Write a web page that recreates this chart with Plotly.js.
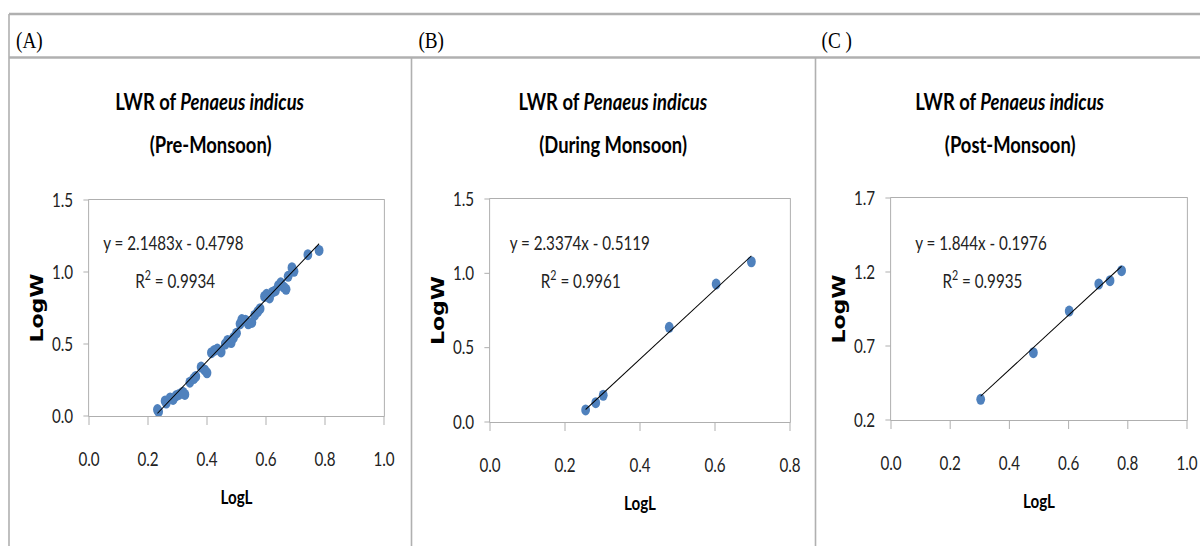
<!DOCTYPE html>
<html>
<head>
<meta charset="utf-8">
<script src="https://cdn.plot.ly/plotly-3.0.1.min.js"></script>
<style>
html,body{margin:0;padding:0;background:#fff;overflow:hidden}
#wrap{width:1200px;height:546px;overflow:hidden}
#chart{width:1500px;height:546px;transform:scaleX(0.8);transform-origin:0 0}
</style>
</head>
<body>
<div id="wrap"><div id="chart"></div></div>
<script>
// ---- Data ----
const preX = [0.232,0.236,0.258,0.262,0.275,0.285,0.295,0.305,0.318,0.325,0.342,0.355,0.362,0.380,0.392,0.400,0.415,0.425,0.435,0.448,0.462,0.470,0.482,0.490,0.500,0.512,0.518,0.530,0.540,0.552,0.562,0.572,0.580,0.595,0.602,0.612,0.622,0.632,0.642,0.650,0.660,0.668,0.675,0.688,0.695,0.742,0.780];
const preY = [0.045,0.030,0.105,0.090,0.125,0.115,0.140,0.150,0.165,0.150,0.235,0.260,0.275,0.340,0.320,0.300,0.440,0.455,0.465,0.445,0.500,0.525,0.510,0.545,0.575,0.640,0.670,0.665,0.640,0.650,0.700,0.725,0.745,0.830,0.845,0.820,0.860,0.870,0.905,0.925,0.895,0.880,0.970,1.030,1.005,1.120,1.150];
const durX = [0.255,0.282,0.302,0.478,0.603,0.697];
const durY = [0.081,0.130,0.180,0.637,0.928,1.078];
const postX = [0.303,0.481,0.602,0.702,0.740,0.779];
const postY = [0.340,0.655,0.936,1.119,1.141,1.209];

const preFit = {slope: 2.1483, intercept: -0.4798, r2: '0.9934'};
const durFit = {slope: 2.3374, intercept: -0.5119, r2: '0.9961'};
const postFit = {slope: 1.844, intercept: -0.1976, r2: '0.9935'};

const panelLabels = ['(A)', '(B)', '(C )'];
const seasons = ['(Pre-Monsoon)', '(During Monsoon)', '(Post-Monsoon)'];
const xTitle = 'LogL';
const yTitle = 'LogW';

// ---- Helpers ----
const SQ = 0.8;                 // horizontal condensing applied by CSS
const W = 1200, H = 546;        // final picture size
const LW = W / SQ;              // layout width before condensing
const px = v => v / W;
const py = v => (H - v) / H;
const sans = 'Lato, Liberation Sans, sans-serif';
const blue = '#4F81BD';

function fitLine(xs, fit) {
  const x0 = Math.min(...xs), x1 = Math.max(...xs);
  return {x: [x0, x1], y: [fit.slope * x0 + fit.intercept, fit.slope * x1 + fit.intercept]};
}
function eqText(fit) {
  const s = fit.intercept < 0 ? ' - ' : ' + ';
  return 'y = ' + fit.slope + 'x' + s + Math.abs(fit.intercept);
}

const panels = [
  {x: preX, y: preY, fit: preFit, xa: 'x', ya: 'y'},
  {x: durX, y: durY, fit: durFit, xa: 'x2', ya: 'y2'},
  {x: postX, y: postY, fit: postFit, xa: 'x3', ya: 'y3'}
];

const traces = [];
panels.forEach(p => {
  traces.push({type: 'scatter', mode: 'markers', x: p.x, y: p.y, xaxis: p.xa, yaxis: p.ya,
    marker: {color: blue, size: 11}, showlegend: false, hoverinfo: 'x+y'});
  const l = fitLine(p.x, p.fit);
  traces.push({type: 'scatter', mode: 'lines', x: l.x, y: l.y, xaxis: p.xa, yaxis: p.ya,
    line: {color: '#000', width: 1.1}, showlegend: false, hoverinfo: 'skip'});
});

const axCommon = {
  showgrid: false, zeroline: false, showline: true, mirror: true,
  linecolor: '#a6a6a6', linewidth: 1, ticks: 'outside', tickcolor: '#a6a6a6',
  tickfont: {family: sans, size: 19, color: '#222'}, tickformat: '.1f', fixedrange: true
};

// geometry (pixel positions of plot areas in the final picture)
const geo = [
  {l: 89, r: 384, t: 200, b: 416, cx: 210, eqx: 174},
  {l: 490, r: 790, t: 199, b: 422, cx: 613, eqx: 580},
  {l: 891, r: 1187, t: 198, b: 420, cx: 1010, eqx: 981}
];
const xRanges = [[0, 1], [0, 0.8], [0, 1]];
const yRanges = [[0, 1.5], [0, 1.5], [0.2, 1.7]];

const layout = {
  width: LW, height: H, margin: {l: 0, r: 0, t: 0, b: 0},
  paper_bgcolor: '#fff', plot_bgcolor: '#fff', showlegend: false,
  annotations: [], shapes: []
};
['', '2', '3'].forEach((s, i) => {
  const g = geo[i];
  layout['xaxis' + s] = Object.assign({}, axCommon, {
    domain: [px(g.l), px(g.r)], range: xRanges[i], dtick: 0.2, tick0: 0, ticklen: 8,
    anchor: 'y' + s, ticklabelstandoff: 18,
    title: {text: '<b>' + xTitle + '</b>', standoff: 21, font: {family: sans, size: 19, color: '#000'}}
  });
  layout['yaxis' + s] = Object.assign({}, axCommon, {
    domain: [py(g.b), py(g.t)], range: yRanges[i], dtick: 0.5, tick0: yRanges[i][0], ticklen: 6,
    anchor: 'x' + s, ticklabelstandoff: 9,
    title: {text: '<b>' + yTitle + '</b>', standoff: 4, font: {family: 'DejaVu Sans, sans-serif', size: 22, color: '#000'}}
  });
  const fit = panels[i].fit;
  const A = layout.annotations;
  const base = {xref: 'paper', yref: 'paper', showarrow: false, xanchor: 'center', yanchor: 'middle'};
  A.push(Object.assign({}, base, {x: px(g.cx), y: py(101), text: '<b>LWR of <i>Penaeus indicus</i></b>',
    font: {family: sans, size: 23, color: '#000'}}));
  A.push(Object.assign({}, base, {x: px(g.cx), y: py(144), text: '<b>' + seasons[i] + '</b>',
    font: {family: sans, size: 23, color: '#000'}}));
  A.push(Object.assign({}, base, {x: px(g.eqx), y: py(242), text: eqText(fit),
    font: {family: sans, size: 19, color: '#222'}}));
  A.push(Object.assign({}, base, {x: px(g.eqx + 1), y: py(279), text: 'R<sup>2</sup> = ' + fit.r2,
    font: {family: sans, size: 19, color: '#222'}}));
});
// panel letters
[14, 417, 820].forEach((x, i) => {
  layout.annotations.push({xref: 'paper', yref: 'paper', x: px(x), y: py(40), xanchor: 'left', yanchor: 'middle',
    showarrow: false, text: panelLabels[i], font: {family: 'Liberation Serif, serif', size: 24, color: '#000'}});
});
// frame lines
const frameColor = '#b0b0b0';
const ln = (x0, y0, x1, y1, w) => ({type: 'line', xref: 'paper', yref: 'paper',
  x0: px(x0), y0: py(y0), x1: px(x1), y1: py(y1), line: {color: frameColor, width: w}});
layout.shapes.push(ln(9, 14, 1200, 14, 2.5));
layout.shapes.push(ln(9, 57.5, 1200, 57.5, 2.5));
layout.shapes.push(ln(9, 14, 9, 546, 2));
layout.shapes.push(ln(411.5, 57.5, 411.5, 546, 2));
layout.shapes.push(ln(815.5, 57.5, 815.5, 546, 2));

Plotly.newPlot('chart', traces, layout, {displayModeBar: false, staticPlot: true});
</script>
</body>
</html>
